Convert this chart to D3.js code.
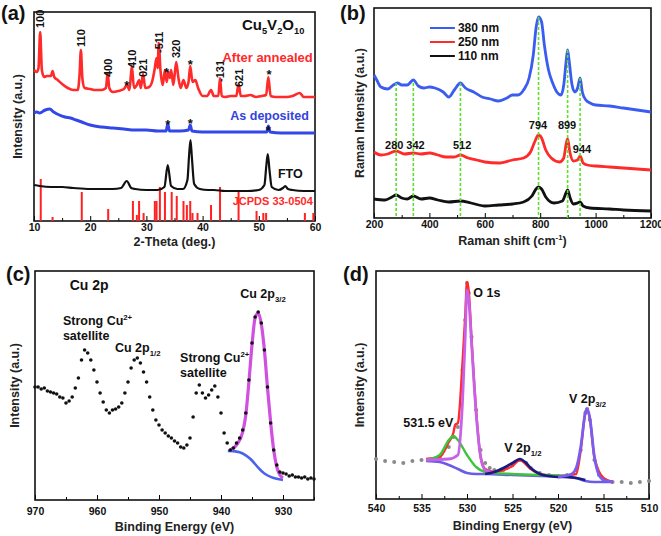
<!DOCTYPE html>
<html>
<head>
<meta charset="utf-8">
<script src="https://cdn.jsdelivr.net/npm/d3@7"></script>
<style>
body { margin: 0; background: #fff; }
svg { display: block; }
</style>
</head>
<body>
<svg width="661" height="536"></svg>
<script>
const FONT = '"Liberation Sans", Arial, sans-serif'

// ---------- (a) XRD ----------
const xrdAnnealed = [[10,151],[10.5,149],[10.8,153],[11.1,189],[11.4,151],[11.8,144],[12.3,145],[13,145],[13.3,150],[13.6,144],[14.2,141],[15,137],[16,133],[17,131],[17.8,131],[18.1,146],[18.35,171],[18.6,143],[19,133],[20,132],[21,131],[22,131],[22.8,133],[23.1,148],[23.4,133],[24,129],[25,130],[26,132],[26.5,136],[27,131],[27.4,155],[27.8,133],[28.3,136],[28.7,141],[29,133],[29.4,147],[29.8,133],[30.5,134],[31,139],[31.5,153],[31.8,163],[32,153],[32.2,178],[32.5,151],[32.9,136],[33.3,151],[33.6,139],[33.9,149],[34.2,143],[34.4,151],[34.8,136],[35.3,159],[35.7,143],[36.1,133],[36.6,141],[37.1,133],[37.5,139],[37.8,155],[38.2,139],[38.7,141],[39.2,133],[40,125],[40.8,125],[41.5,131],[42,125],[42.8,125],[43.1,143],[43.4,125],[44,124],[45,125],[46,125],[46.4,137],[46.8,125],[47.5,125],[48.5,126],[49.5,124],[50.5,125],[51.3,126],[51.7,144],[52.1,125],[53,124],[54,124],[55,124],[56,125],[57.3,128],[58,124],[59,124],[60,124]]
const xrdDeposited = [[10,108],[10.5,109],[11,108],[12,111],[12.8,112],[13.5,109],[14.5,106],[15.5,104],[16.5,103],[17.5,101],[18.5,99],[20,96],[22,94],[24,93],[26,92],[28,91],[30,91],[32,90],[33.5,90],[33.8,97],[34.1,90],[36,90],[37.5,91],[37.8,96],[38.1,90],[40,89],[42,89],[44,89],[46,89],[48,89],[50,89],[51.4,89],[51.7,95],[52,89],[54,88],[56,88],[58,88],[60,88]]
const xrdFTO = [[10,36],[11,35],[13,34],[15,34],[17,33],[20,32],[22,32],[24,32],[25.5,33],[26.5,40],[27.3,33],[28,32],[30,31],[32,31],[33.2,34],[33.8,56],[34.4,35],[35.5,32],[36.5,32],[37.3,41],[37.6,66],[37.85,81],[38.1,63],[38.5,37],[39.5,32],[41,31],[42,31],[44,30],[46,30],[48,30],[50,31],[51,36],[51.35,56],[51.6,67],[51.9,51],[52.3,34],[53.5,31],[54.3,33],[54.7,35],[55.2,32],[56,31],[58,30],[60,30]]
const jcpds = [[11.2,42],[13.3,4],[18.5,29],[23.2,12],[27.6,20],[28.3,6],[28.7,20],[29.5,8],[31.5,20],[31.8,20],[32.4,34],[33.3,29],[34.5,29],[35.4,25],[36.6,20],[37.2,16],[37.8,20],[38.2,8],[39.1,8],[41.5,16],[43.1,34],[46.4,29],[49.6,10],[50.8,8],[51.3,8],[58.2,8],[59.7,8]]
const hklLabels = [[11.1,193,"100"],[18.35,174,"110"],[23.1,144,"400"],[27.4,153,"410"],[29.4,144,"021"],[32.2,168,"-511"],[35.3,163,"320"],[43.1,139,"-131"],[46.4,134,"621"]]
const starsRed = [[26.5,138],[33.6,151],[37.8,159],[51.8,149]]
const starsBlue = [[33.8,99],[37.8,100],[51.7,93]]

// ---------- (b) Raman ----------
const raman380 = [[200,143],[210,138],[225,131],[250,129],[270,133],[285,135],[300,133],[320,133],[342,138],[360,132],[380,130],[400,131],[420,130],[450,126],[470,121],[490,128],[512,135],[530,130],[560,126],[590,121],[620,119],[650,117],[680,120],[700,123],[720,123],[740,128],[760,140],[775,163],[785,190],[794,201],[805,196],[815,173],[830,148],[845,135],[860,126],[875,123],[885,133],[893,155],[899,168],[905,156],[915,133],[925,126],[935,130],[944,140],[952,126],[965,118],[980,115],[1000,113],[1050,112],[1100,110],[1150,108],[1200,106]]
const raman250 = [[200,66],[225,63],[250,64],[280,67],[310,64],[342,65],[370,64],[400,65],[430,63],[460,61],[490,61],[512,63],[540,60],[570,58],[600,56],[650,55],[700,58],[740,60],[765,66],[780,76],[794,83],[805,80],[820,68],[840,60],[870,56],[885,60],[893,73],[899,79],[907,66],[920,57],[935,58],[944,62],[955,55],[970,53],[1000,52],[1050,51],[1100,50],[1150,49],[1200,48]]
const raman110 = [[200,19],[240,18],[265,21],[280,23],[300,20],[320,19],[342,22],[370,19],[400,20],[430,18],[470,16],[512,17],[550,15],[600,12],[650,13],[700,14],[740,16],[770,22],[785,29],[794,31],[805,29],[820,21],[850,15],[880,17],[893,25],[899,28],[907,21],[920,14],[935,15],[944,16],[955,12],[980,10],[1050,9],[1100,8],[1200,7]]
const ramanMarks = [[280,135],[342,135],[512,135],[794,201],[899,168],[944,140]]
const ramanLabels = [[273,69,"280"],[350,69,"342"],[518,69,"512"],[792,89,"794"],[897,89,"899"],[951,65,"944"]]
const ramanSeries = ["380 nm", "250 nm", "110 nm"]

// ---------- (c) Cu 2p ----------
const cuData = [[970,113],[969.5,113],[969,111],[968.5,112],[968,109],[967.5,108],[967,107],[966.5,106],[966,103],[965.5,102],[965,97],[964.5,99],[964,103],[963.5,112],[963,122],[962.5,140],[962,150],[961.5,147],[961,140],[960.5,130],[960,118],[959.5,107],[959,98],[958.5,90],[958,87],[957.5,90],[957,91],[956.5,93],[956,97],[955.5,107],[955,118],[954.5,132],[954,140],[953.5,142],[953,137],[952.5,128],[952,118],[951.5,103],[951,90],[950.5,80],[950,75],[949.5,70],[949,67],[948.5,64],[948,62],[947.5,59],[947,57],[946.5,53],[946,52],[945.5,55],[945,62],[944.5,83],[944,107],[943.5,115],[943,107],[942.5,102],[942,105],[941.5,110],[941,114],[940.5,103],[940,87],[939.5,67],[939,57],[938.5,50],[938,52],[937.5,57],[937,62],[936.5,70],[936,87],[935.5,120],[935,157],[934.5,183],[934,188],[933.5,177],[933,150],[932.5,113],[932,77],[931.5,50],[931,35],[930.5,28],[930,27],[929.5,26],[929,24],[928.5,25],[928,23],[927.5,23],[927,22],[926.5,23],[926,21],[925.5,22],[925,21]]
const cuFit = [[938.5,50],[937.5,55],[936.5,68],[936,85],[935.5,118],[935,155],[934.5,182],[934,187],[933.5,176],[933,150],[932.5,112],[932,78],[931.5,50],[931,33],[930.5,25],[930,22]]
const cuBackground = [[938.9,49],[938,49],[937,48],[936,45],[935,40],[934,32],[933,26],[932,23],[931,21],[930,20]]

// ---------- (d) O 1s / V 2p ----------
const ovData = [[540,40],[539,38],[538,37],[537,36],[536,38],[535,39],[534,39],[533,42],[532,52],[531.5,62],[531,72],[530.5,129],[530.2,179],[530,216],[529.8,206],[529.5,162],[529,89],[528.5,49],[528,36],[527.5,31],[527,29],[526,29],[525,34],[524.2,39],[523.5,36],[523,31],[522,26],[521,24],[520,23],[519,24],[518,29],[517.5,49],[517,86],[516.8,90],[516.5,79],[516,39],[515.5,24],[515,19],[514,17],[513,17],[512,16],[511,17],[510,18]]
const ovEnvelope = [[534.5,40],[533,42],[532,57],[531.5,66],[531.3,74],[531,76],[530.5,135],[530.2,182],[530,217],[529.8,207],[529.5,160],[529,89],[528.5,42],[528,30],[527,27],[526,29],[525,33],[524.2,39],[523,30],[522,25],[520,23],[518,25],[517.5,49],[517,86],[516.8,90],[516.5,80],[516,42],[515,21],[514,17]]
const ovGreen = [[534.5,39],[533,44],[532,59],[531.5,63],[531,59],[530,44],[529,32],[528,27],[527,26],[525,25],[522,24],[519,23]]
const ovLattice = [[534.5,39],[532,40],[531,44],[530.5,96],[530.2,162],[530,209],[529.8,199],[529.5,156],[529,86],[528.5,42],[528,29],[527,26]]
const ovBackground = [[534.5,38],[533,37],[532,34],[531,30],[530,26],[529,25],[528,25],[525,24],[522,23],[519,22],[518,21],[517,18],[516,17],[514,17]]
const ovV12 = [[528,25],[527,27],[526,31],[525,36],[524.2,40],[523.5,36],[523,31],[522,25],[521,23],[520,22],[519,22],[518,21],[517,19]]
const ovV32 = [[520,22],[518.5,25],[518,31],[517.5,52],[517,86],[516.8,90],[516.5,81],[516,42],[515.5,24],[515,19],[514,17]]

const svg = d3.select("svg")
    .style("font-family", FONT)
    .style("font-weight", "bold")

const panel = (o) => {
    const x = d3.scaleLinear().domain(o.xDomain).range([o.left, o.right])
    const y = d3.scaleLinear().domain(o.yDomain).range([o.bottom, o.top])
    const g = svg.append("g")

    g.append("g")
        .attr("transform", "translate(0," + o.bottom + ")")
        .call(d3.axisBottom(x).tickValues(o.minor).tickSize(-3).tickFormat(""))
        .call(a => a.select(".domain").remove())

    g.append("g")
        .attr("transform", "translate(0," + o.bottom + ")")
        .call(d3.axisBottom(x).tickValues(o.major).tickSize(-5).tickPadding(o.tickPad).tickFormat(d3.format("d")))
        .call(a => a.select(".domain").remove())
        .call(a => a.selectAll("text")
            .attr("font-size", 10.5)
            .attr("font-family", FONT)
            .attr("font-weight", "bold")
            .attr("fill", "#111"))

    g.append("rect")
        .attr("x", o.left)
        .attr("y", o.top)
        .attr("width", o.right - o.left)
        .attr("height", o.bottom - o.top)
        .attr("fill", "none")
        .attr("stroke", "#111")
        .attr("stroke-width", 1.6)

    g.append("text")
        .attr("x", (o.left + o.right) / 2)
        .attr("y", o.bottom + o.xTitleGap)
        .attr("text-anchor", "middle")
        .attr("font-size", 12.5)
        .attr("fill", "#222")
        .call(t => rich(t, o.xTitle, 12.5))

    g.append("text")
        .attr("transform", "translate(" + o.yTitleX + "," + ((o.top + o.bottom) / 2) + ") rotate(-90)")
        .attr("text-anchor", "middle")
        .attr("dy", "0.35em")
        .attr("font-size", 12.5)
        .attr("fill", "#222")
        .text(o.yTitle)

    svg.append("text")
        .attr("x", o.tagX)
        .attr("y", o.tagY)
        .attr("font-size", 20)
        .attr("fill", "#111")
        .text(o.tag)

    return { g, x, y }
}

// parts: [text, "sub"|"sup"|undefined]
const rich = (t, parts, size) => {
    let shift = 0
    parts.forEach(p => {
        let target = 0
        if (p[1] === "sub") target = size * 0.28
        if (p[1] === "sup") target = -size * 0.38
        const s = t.append("tspan").text(p[0]).attr("dy", target - shift)
        if (p[1]) s.attr("font-size", size * 0.62)
        shift = target
    })
}

const addLabel = (g, xPos, yPos, parts, size, color, anchor) => {
    const t = g.append("text")
        .attr("x", xPos)
        .attr("y", yPos)
        .attr("font-size", size)
        .attr("fill", color)
        .attr("text-anchor", anchor || "start")
    rich(t, parts, size)
    return t
}

const drawLine = (g, x, y, data, color, width, curve) => {
    g.append("path")
        .datum(data)
        .attr("fill", "none")
        .attr("stroke", color)
        .attr("stroke-width", width)
        .attr("stroke-linejoin", "round")
        .attr("d", d3.line().x(d => x(d[0])).y(d => y(d[1])).curve(curve || d3.curveMonotoneX))
}

// ===== panel (a) =====
const pa = panel({
    left: 34, right: 315, top: 12, bottom: 221,
    xDomain: [10, 60], yDomain: [0, 209],
    major: d3.range(10, 61, 10), minor: d3.range(15, 60, 10), tickPad: 3,
    xTitle: [["2-Theta (deg.)"]], xTitleGap: 25,
    yTitle: "Intensity (a.u.)", yTitleX: 18,
    tag: "(a)", tagX: 1, tagY: 20
})

pa.g.selectAll(".jcpds")
    .data(jcpds)
    .enter()
    .append("rect")
    .attr("class", "jcpds")
    .attr("x", d => pa.x(d[0]) - 1)
    .attr("width", 2)
    .attr("y", d => pa.y(d[1]))
    .attr("height", d => pa.y(0) - pa.y(d[1]))
    .attr("fill", "#f22")

drawLine(pa.g, pa.x, pa.y, xrdFTO, "#111", 2.2)
drawLine(pa.g, pa.x, pa.y, xrdDeposited, "#3347e8", 3)
drawLine(pa.g, pa.x, pa.y, xrdAnnealed, "#ff2a2a", 2.6)

pa.g.selectAll(".hkl")
    .data(hklLabels)
    .enter()
    .append("text")
    .attr("class", "hkl")
    .attr("transform", d => "translate(" + pa.x(d[0]) + "," + pa.y(d[1]) + ") rotate(-90)")
    .attr("dy", "0.36em")
    .attr("font-size", 11)
    .attr("fill", "#111")
    .text(d => d[2])

pa.g.selectAll(".star")
    .data(starsRed.concat(starsBlue))
    .enter()
    .append("text")
    .attr("class", "star")
    .attr("x", d => pa.x(d[0]))
    .attr("y", d => pa.y(d[1]))
    .attr("dy", "0.55em")
    .attr("text-anchor", "middle")
    .attr("font-size", 13)
    .attr("fill", "#111")
    .text("*")

addLabel(pa.g, pa.x(47.0), pa.y(191), [["Cu"], ["5", "sub"], ["V"], ["2", "sub"], ["O"], ["10", "sub"]], 15, "#111")
addLabel(pa.g, pa.x(59.6), pa.y(159), [["After annealed"]], 13, "#ff2a2a", "end")
addLabel(pa.g, pa.x(58.9), pa.y(101), [["As deposited"]], 12.5, "#3344dd", "end")
addLabel(pa.g, pa.x(53.4), pa.y(43), [["FTO"]], 12.5, "#111")
addLabel(pa.g, pa.x(59.6), pa.y(16), [["JCPDS 33-0504"]], 11, "#ff2a2a", "end")

// ===== panel (b) =====
const pb = panel({
    left: 374, right: 651, top: 8, bottom: 218,
    xDomain: [200, 1200], yDomain: [0, 210],
    major: d3.range(200, 1201, 200), minor: d3.range(300, 1200, 200), tickPad: 3,
    xTitle: [["Raman shift (cm"], ["-1", "sup"], [")"]], xTitleGap: 27,
    yTitle: "Raman Intensity (a.u.)", yTitleX: 360,
    tag: "(b)", tagX: 340, tagY: 20
})

const ramanColors = ["#3a5cf0", "#ff2a2a", "#111"]
drawLine(pb.g, pb.x, pb.y, raman110, ramanColors[2], 2.8)
drawLine(pb.g, pb.x, pb.y, raman250, ramanColors[1], 2.8)
drawLine(pb.g, pb.x, pb.y, raman380, ramanColors[0], 2.8)

pb.g.selectAll(".mark")
    .data(ramanMarks)
    .enter()
    .append("line")
    .attr("class", "mark")
    .attr("x1", d => pb.x(d[0]))
    .attr("x2", d => pb.x(d[0]))
    .attr("y1", d => pb.y(d[1]))
    .attr("y2", pb.y(0))
    .attr("stroke", "#5de02a")
    .attr("stroke-width", 1.6)
    .attr("stroke-dasharray", "3,2")

pb.g.selectAll(".rlab")
    .data(ramanLabels)
    .enter()
    .append("text")
    .attr("class", "rlab")
    .attr("x", d => pb.x(d[0]))
    .attr("y", d => pb.y(d[1]))
    .attr("text-anchor", "middle")
    .attr("font-size", 11)
    .attr("fill", "#111")
    .text(d => d[2])

const legend = pb.g.selectAll(".leg")
    .data(ramanSeries)
    .enter()
    .append("g")
    .attr("class", "leg")
    .attr("transform", (d, i) => "translate(0," + (28 + i * 14) + ")")
legend.append("line")
    .attr("x1", pb.x(402)).attr("x2", pb.x(492))
    .attr("stroke", (d, i) => ramanColors[i])
    .attr("stroke-width", 2)
legend.append("text")
    .attr("x", pb.x(503))
    .attr("dy", "0.36em")
    .attr("font-size", 12)
    .attr("fill", "#111")
    .text(d => d)

// ===== panel (c) =====
const pc = panel({
    left: 35, right: 314, top: 271, bottom: 500,
    xDomain: [970, 925], yDomain: [0, 229],
    major: d3.range(970, 929, -10), minor: d3.range(965, 924, -10), tickPad: 8,
    xTitle: [["Binding Energy (eV)"]], xTitleGap: 31,
    yTitle: "Intensity (a.u.)", yTitleX: 15,
    tag: "(c)", tagX: 6, tagY: 281
})

drawLine(pc.g, pc.x, pc.y, cuBackground, "#4a62ee", 2.6, d3.curveBasis)
drawLine(pc.g, pc.x, pc.y, cuFit, "#d050e0", 3.2)

pc.g.selectAll(".pt")
    .data(cuData)
    .enter()
    .append("circle")
    .attr("class", "pt")
    .attr("cx", d => pc.x(d[0]))
    .attr("cy", d => pc.y(d[1]))
    .attr("r", 1.8)
    .attr("fill", "#111")

addLabel(pc.g, pc.x(964.4), pc.y(210), [["Cu 2p"]], 14, "#111")
addLabel(pc.g, pc.x(965.5), pc.y(175), [["Strong Cu"], ["2+", "sup"]], 12.5, "#111")
addLabel(pc.g, pc.x(965.5), pc.y(160), [["satellite"]], 12.5, "#111")
addLabel(pc.g, pc.x(957.1), pc.y(148), [["Cu 2p"], ["1/2", "sub"]], 12.5, "#111")
addLabel(pc.g, pc.x(946.6), pc.y(138), [["Strong Cu"], ["2+", "sup"]], 12.5, "#111")
addLabel(pc.g, pc.x(946.6), pc.y(123), [["satellite"]], 12.5, "#111")
addLabel(pc.g, pc.x(936.9), pc.y(202), [["Cu 2p"], ["3/2", "sub"]], 12.5, "#111")

// ===== panel (d) =====
const pd = panel({
    left: 376, right: 649, top: 271, bottom: 499,
    xDomain: [540, 510], yDomain: [0, 228],
    major: d3.range(540, 509, -5), minor: d3.range(537.5, 510, -5), tickPad: 6,
    xTitle: [["Binding Energy (eV)"]], xTitleGap: 31,
    yTitle: "Intensity (a.u.)", yTitleX: 360,
    tag: "(d)", tagX: 343, tagY: 281
})

pd.g.selectAll(".pt")
    .data(ovData)
    .enter()
    .append("circle")
    .attr("class", "pt")
    .attr("cx", d => pd.x(d[0]))
    .attr("cy", d => pd.y(d[1]))
    .attr("r", 2)
    .attr("fill", "#8a8a8a")

drawLine(pd.g, pd.x, pd.y, ovBackground, "#6a5ce6", 2.6)
drawLine(pd.g, pd.x, pd.y, ovEnvelope, "#ff2a2a", 2.4)
drawLine(pd.g, pd.x, pd.y, ovGreen, "#3cc43c", 2.4)
drawLine(pd.g, pd.x, pd.y, ovLattice, "#c860e8", 2.8)
drawLine(pd.g, pd.x, pd.y, ovV12, "#1a1a80", 2.6)
drawLine(pd.g, pd.x, pd.y, ovV32, "#7a5cf0", 2.8)

addLabel(pd.g, pd.x(529.3), pd.y(202), [["O 1s"]], 12.5, "#111")
addLabel(pd.g, pd.x(537.0), pd.y(72), [["531.5 eV"]], 12.5, "#111")
addLabel(pd.g, pd.x(525.9), pd.y(47), [["V 2p"], ["1/2", "sub"]], 12.5, "#111")
addLabel(pd.g, pd.x(518.8), pd.y(96), [["V 2p"], ["3/2", "sub"]], 12.5, "#111")
</script>
</body>
</html>
